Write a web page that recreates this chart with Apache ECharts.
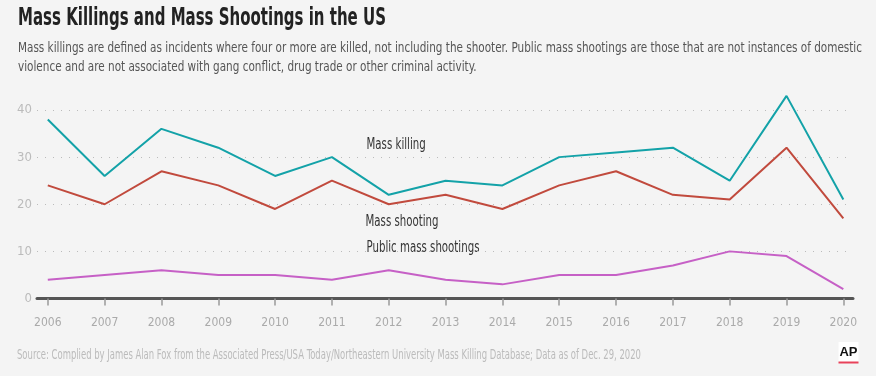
<!DOCTYPE html>
<html>
<head>
<meta charset="utf-8">
<script src="https://cdn.jsdelivr.net/npm/echarts@6/dist/echarts.min.js"></script>
<style>
  html, body { margin: 0; padding: 0; background: #f4f4f4; }
  #chart { width: 876px; height: 376px; }
</style>
</head>
<body>
<div id="chart"></div>
<script>
  const years = [2006, 2007, 2008, 2009, 2010, 2011, 2012, 2013, 2014, 2015, 2016, 2017, 2018, 2019, 2020]
  const massKilling = [38, 26, 36, 32, 26, 30, 22, 25, 24, 30, 31, 32, 25, 43, 21]
  const massShooting = [24, 20, 27, 24, 19, 25, 20, 22, 19, 24, 27, 22, 21, 32, 17]
  const publicShootings = [4, 5, 6, 5, 5, 4, 6, 4, 3, 5, 5, 7, 10, 9, 2]
  const yTicks = [0, 10, 20, 30, 40]

  const FONT = '"DejaVu Sans Condensed", "Liberation Sans Narrow", sans-serif'
  const TITLE = 'Mass Killings and Mass Shootings in the US'
  const SUB1 = 'Mass killings are defined as incidents where four or more are killed, not including the shooter. Public mass shootings are those that are not instances of domestic'
  const SUB2 = 'violence and are not associated with gang conflict, drug trade or other criminal activity.'
  const SOURCE = 'Source: Complied by James Alan Fox from the Associated Press/USA Today/Northeastern University Mass Killing Database; Data as of Dec. 29, 2020'

  // the original uses a very narrow face, so squeeze the installed condensed one to the same width
  let ctx = document.createElement('canvas').getContext('2d')
  let fitScale = (text, weight, size, width) => {
    ctx.font = `${weight} ${size}px "DejaVu Sans Condensed", sans-serif`
    return width / ctx.measureText(text).width
  }
  let titleScale = fitScale(TITLE, 'bold', 24, 368)
  let subScale = fitScale(SUB1, 'normal', 14.5, 844)
  let srcScale = fitScale(SOURCE, 'normal', 14, 624)
  let lblScale = fitScale('Public mass shootings', 'normal', 15, 113)

  let txt = (text, x, y, scale, size, weight, color) => ({
    type: 'text', x: x, y: y, scaleX: scale, silent: true,
    style: { text: text, fontFamily: FONT, fontSize: size, fontWeight: weight, fill: color, verticalAlign: 'middle' }
  })

  let chart = echarts.init(document.getElementById('chart'))

  let pairs = (vals) => years.map((y, i) => [y, vals[i]])

  let line = (name, vals, color) => ({
    name: name,
    type: 'line',
    data: pairs(vals),
    symbol: 'none',
    silent: true,
    clip: false,
    lineStyle: { color: color, width: 2 },
    itemStyle: { color: color }
  })

  let option = {
    backgroundColor: '#f4f4f4',
    animation: false,
    textStyle: { fontFamily: FONT },
    grid: { left: 37, right: 23, top: 110, bottom: 77.5 },
    xAxis: {
      type: 'value',
      min: 2005.81,
      max: 2020.17,
      axisLine: { show: true, lineStyle: { color: '#555', width: 3 } },
      axisTick: { show: true, customValues: years, length: 7, lineStyle: { color: '#999', width: 1.5 } },
      axisLabel: { customValues: years, margin: 18, color: '#aaa', fontSize: 12, fontFamily: FONT, formatter: v => String(v) },
      splitLine: { show: false }
    },
    yAxis: {
      type: 'value',
      min: 0,
      max: 40,
      interval: 10,
      axisLine: { show: false },
      axisTick: { show: false },
      axisLabel: { customValues: yTicks, margin: 5, color: '#bbb', fontSize: 13, fontFamily: FONT },
      splitLine: { show: true, lineStyle: { color: '#bbb', width: 1, type: [1, 7] } }
    },
    series: [
      line('Mass killing', massKilling, '#13a2a8'),
      line('Mass shooting', massShooting, '#c14a3d'),
      line('Public mass shootings', publicShootings, '#c660c6')
    ],
    graphic: [
      txt(TITLE, 18, 19, titleScale, 24, 'bold', '#222'),
      txt(SUB1, 18, 48, subScale, 14.5, 'normal', '#555'),
      txt(SUB2, 18, 67, subScale, 14.5, 'normal', '#555'),
      txt(SOURCE, 17, 355, srcScale, 14, 'normal', '#bbb'),
      txt('Mass killing', 366.5, 145, lblScale, 15, 'normal', '#333'),
      txt('Mass shooting', 365.5, 222.5, lblScale, 15, 'normal', '#333'),
      txt('Public mass shootings', 366.5, 248, lblScale, 15, 'normal', '#333'),
      { type: 'rect', x: 838.5, y: 342, shape: { width: 20, height: 20 }, style: { fill: '#ffffff' } },
      { type: 'rect', x: 838.5, y: 361.5, shape: { width: 20, height: 2 }, style: { fill: '#e8425a' } },
      { type: 'text', x: 848.5, y: 352, style: { text: 'AP', fontFamily: '"Liberation Sans", Arial, sans-serif', fontSize: 13, fontWeight: 'bold', fill: '#111', align: 'center', verticalAlign: 'middle' } }
    ]
  }

  chart.setOption(option)
</script>
</body>
</html>
